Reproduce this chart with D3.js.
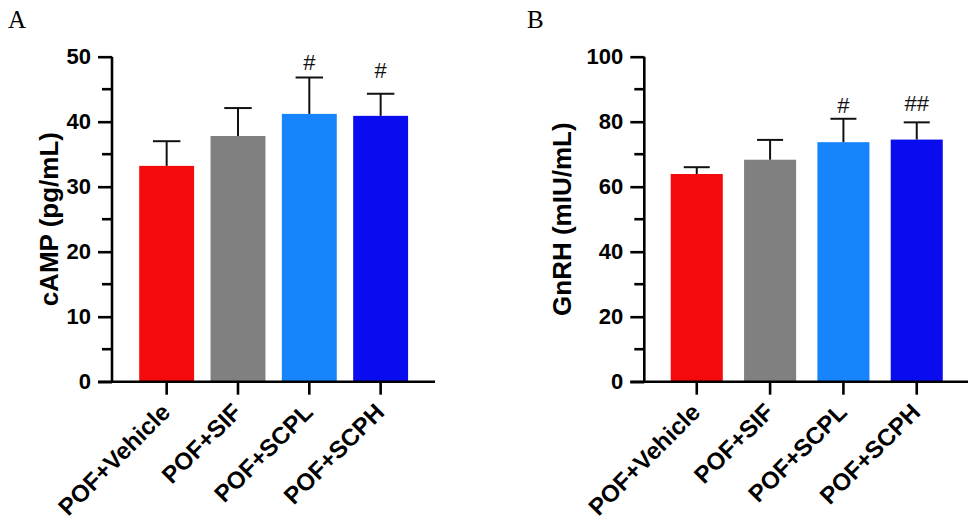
<!DOCTYPE html>
<html>
<head>
<meta charset="utf-8">
<script src="https://cdn.jsdelivr.net/npm/d3@7"></script>
<style>
  html, body { margin: 0; padding: 0; background: #fff; }
  svg { display: block; }
</style>
</head>
<body>
<svg id="chart" width="978" height="532"></svg>
<script>
// ---------- data ----------
const categories = ["POF+Vehicle", "POF+SIF", "POF+SCPL", "POF+SCPH"];
const barColors = ["#f40a0a", "#808080", "#1784fd", "#0b0bf0"];

const campMean = [33.2, 37.8, 41.2, 40.9];
const campSD   = [3.8, 4.3, 5.6, 3.4];
const campSig  = ["", "", "#", "#"];
const campSigLevel = [null, null, 48.0, 46.7];
const campTicks = [0, 10, 20, 30, 40, 50];
const campMinor = [5, 15, 25, 35, 45];

const gnrhMean = [63.9, 68.3, 73.7, 74.5];
const gnrhSD   = [2.1, 6.1, 7.2, 5.3];
const gnrhSig  = ["", "", "#", "##"];
const gnrhSigLevel = [null, null, 82.8, 83.4];
const gnrhTicks = [0, 20, 40, 60, 80, 100];
const gnrhMinor = [10, 30, 50, 70, 90];

// ---------- drawing ----------
const svg = d3.select("#chart");
const SANS = "'Liberation Sans', Arial, sans-serif";
const SERIF = "'Liberation Serif', 'Times New Roman', serif";

function panel(opt) {
  const g = svg.append("g");
  const y = d3.scaleLinear().domain(opt.domain).range([381.7, 56.7]);
  const x = d3.scaleBand().domain(categories).range(opt.bandRange)
    .paddingInner(opt.padIn).paddingOuter(opt.padIn / 2);

  // bars
  g.selectAll("rect.bar").data(categories).join("rect")
    .attr("class", "bar")
    .attr("x", d => x(d))
    .attr("width", x.bandwidth())
    .attr("y", (d, i) => y(opt.mean[i]))
    .attr("height", (d, i) => y(0) - y(opt.mean[i]))
    .attr("fill", (d, i) => barColors[i]);

  // error bars (upper only)
  const capW = x.bandwidth() * 0.5;
  categories.forEach((c, i) => {
    const cx = x(c) + x.bandwidth() / 2;
    const top = y(opt.mean[i] + opt.sd[i]);
    g.append("line").attr("x1", cx).attr("x2", cx)
      .attr("y1", y(opt.mean[i])).attr("y2", top)
      .attr("stroke", "#111").attr("stroke-width", 2);
    g.append("line").attr("x1", cx - capW / 2).attr("x2", cx + capW / 2)
      .attr("y1", top).attr("y2", top)
      .attr("stroke", "#111").attr("stroke-width", 2);
    if (opt.sig[i]) {
      g.append("text").attr("x", cx).attr("y", y(opt.sigLevel[i]))
        .attr("text-anchor", "middle")
        .attr("font-family", SANS).attr("font-size", 22)
        .attr("fill", "#111").text(opt.sig[i]);
    }
  });

  // y axis
  const yAxis = d3.axisLeft(y).tickValues(opt.ticks).tickSize(14).tickPadding(7)
    .tickFormat(d3.format("d"));
  const ya = g.append("g").attr("transform", `translate(${opt.axisX},0)`).call(yAxis);
  ya.select(".domain").attr("stroke", "#000").attr("stroke-width", 2.6)
    .attr("d", `M0,${y(opt.domain[1])}V${y(0)}`);
  ya.selectAll(".tick line").attr("stroke", "#000").attr("stroke-width", 2.6);
  ya.selectAll(".tick text").attr("font-family", SANS).attr("font-size", 22)
    .attr("font-weight", "bold").attr("fill", "#000");
  g.append("g").attr("transform", `translate(${opt.axisX},0)`)
    .selectAll("line").data(opt.minor).join("line")
    .attr("x1", -10).attr("x2", 0)
    .attr("y1", d => y(d)).attr("y2", d => y(d))
    .attr("stroke", "#000").attr("stroke-width", 2.6);

  // x axis
  const xAxis = d3.axisBottom(x).tickSize(13).tickFormat("");
  const xa = g.append("g").attr("transform", `translate(0,${y(0)})`).call(xAxis);
  xa.select(".domain").attr("stroke", "#000").attr("stroke-width", 2.6)
    .attr("d", `M${opt.axisX - 14},0H${opt.xEnd}`);
  xa.selectAll(".tick line").attr("stroke", "#000").attr("stroke-width", 2.6);

  // x labels (rotated)
  g.selectAll("text.xl").data(categories).join("text")
    .attr("class", "xl")
    .attr("transform", d => `translate(${x(d) + x.bandwidth() / 2 + 5},${y(0) + 32}) rotate(-45)`)
    .attr("text-anchor", "end")
    .attr("font-family", SANS).attr("font-size", 24).attr("font-weight", "bold")
    .attr("fill", "#000").text(d => d);

  // y title
  g.append("text")
    .attr("transform", `translate(${opt.titleX},${(y(0) + y(opt.domain[1])) / 2}) rotate(-90)`)
    .attr("text-anchor", "middle")
    .attr("font-family", SANS).attr("font-size", 26).attr("font-weight", "bold")
    .attr("fill", "#000").text(opt.title);

  // panel letter
  g.append("text").attr("x", opt.letterX).attr("y", 28)
    .attr("font-family", SERIF).attr("font-size", 25).attr("fill", "#000")
    .text(opt.letter);
}

panel({
  domain: [0, 50], ticks: campTicks, minor: campMinor,
  mean: campMean, sd: campSD, sig: campSig, sigLevel: campSigLevel,
  bandRange: [131, 416.3], padIn: 0.23, axisX: 112, xEnd: 435,
  title: "cAMP (pg/mL)", titleX: 58, letter: "A", letterX: 8
});

panel({
  domain: [0, 100], ticks: gnrhTicks, minor: gnrhMinor,
  mean: gnrhMean, sd: gnrhSD, sig: gnrhSig, sigLevel: gnrhSigLevel,
  bandRange: [660.1, 953.4], padIn: 0.29, axisX: 644.3, xEnd: 968,
  title: "GnRH (mIU/mL)", titleX: 571, letter: "B", letterX: 527
});
</script>
</body>
</html>
